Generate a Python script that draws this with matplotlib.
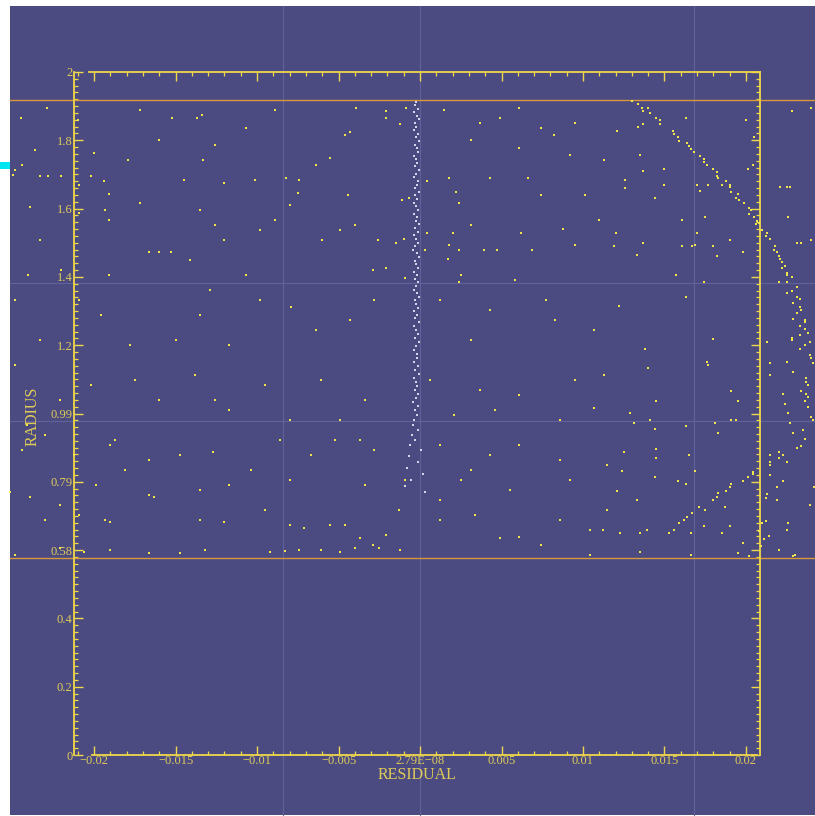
import numpy as np
import matplotlib.pyplot as plt
from matplotlib.patches import Rectangle
from matplotlib.ticker import MultipleLocator

# residuals are listed in units of 1e-3, as (residual, radius) pairs
res_scale = 1e-3

band_top = [
    (-24.5, 1.865), (-22.9, 1.895), (-21.0, 1.859), (-17.2, 1.889), (-15.2, 1.865), (-13.7, 1.865),
    (-13.4, 1.874), (-10.7, 1.836), (-8.9, 1.889), (-4.3, 1.824), (-3.9, 1.895), (-2.1, 1.865),
    (1.5, 1.889), (3.7, 1.851), (4.9, 1.865), (6.1, 1.895), (7.4, 1.836), (9.5, 1.851), (12.1, 1.827),
    (13.4, 1.839), (13.7, 1.848), (16.3, 1.865), (20.0, 1.859), (20.5, 1.810), (22.8, 1.886), (24.0, 1.895),
    (-0.86, 1.895), (-1.2, 1.848), (-2.1, 1.886),
]
band_upper = [
    (-23.6, 1.772), (-20.0, 1.763), (-24.4, 1.728), (-24.85, 1.713), (-25.0, 1.698), (-23.3, 1.695),
    (-22.8, 1.695), (-22.0, 1.695), (-20.2, 1.695), (-19.4, 1.681), (-20.9, 1.669), (-19.1, 1.643),
    (-23.9, 1.605), (-19.3, 1.596), (-17.9, 1.742), (-14.5, 1.684), (-13.3, 1.742), (-12.6, 1.786),
    (-12.0, 1.675), (-10.1, 1.684), (-8.2, 1.690), (-7.4, 1.684), (-6.4, 1.728), (-5.5, 1.748),
    (-4.6, 1.816), (-7.5, 1.646), (-4.4, 1.640), (-16.0, 1.801), (-0.67, 1.631), (-1.1, 1.625),
    (-1.5, 1.499), (-1.0, 1.511), (-2.1, 1.426), (-0.9, 1.397),
    (0.43, 1.681), (1.8, 1.690), (2.2, 1.649), (2.4, 1.616), (3.1, 1.801), (4.3, 1.690), (6.1, 1.777),
    (6.6, 1.690), (7.4, 1.640), (8.2, 1.816), (9.2, 1.757), (11.3, 1.742), (10.1, 1.640), (12.6, 1.684),
    (13.5, 1.757), (13.7, 1.710), (15.0, 1.716), (15.0, 1.669), (12.6, 1.660), (14.4, 1.631),
    (20.4, 1.728), (20.1, 1.716), (22.1, 1.663), (22.5, 1.663), (22.7, 1.663), (17.7, 1.669),
    (18.5, 1.669), (17.0, 1.669), (17.2, 1.652),
    (-19.1, 1.567), (-23.3, 1.508), (-20.9, 1.587), (-17.2, 1.616), (-16.6, 1.473), (-16.0, 1.473),
    (-15.3, 1.473), (-13.5, 1.596), (-12.6, 1.552), (-12.0, 1.508), (-9.8, 1.537), (-8.9, 1.567),
    (-8.0, 1.611), (-6.0, 1.508), (-4.9, 1.537), (-4.0, 1.552), (-2.6, 1.508), (-2.9, 1.420),
    (0.43, 1.529), (2.0, 1.529), (1.8, 1.493), (0.3, 1.479), (2.4, 1.479), (1.7, 1.452), (2.4, 1.385),
    (3.1, 1.552), (3.9, 1.479), (4.7, 1.479), (6.2, 1.529), (6.9, 1.479), (8.8, 1.540), (9.5, 1.493),
    (11.0, 1.567), (12.0, 1.529), (11.9, 1.490), (13.7, 1.499), (13.3, 1.464), (16.1, 1.567),
    (17.0, 1.529), (17.5, 1.575), (18.2, 1.461), (18.0, 1.490), (16.1, 1.490), (16.7, 1.490),
    (16.9, 1.493), (15.7, 1.406), (19.8, 1.473), (23.1, 1.499), (23.4, 1.499), (24.0, 1.508),
    (19.0, 1.508), (22.6, 1.575), (-24.05, 1.406), (-22.0, 1.420), (-19.1, 1.406), (-10.7, 1.406),
    (-14.1, 1.449),
]
band_middle = [
    (-24.85, 1.332), (-23.3, 1.215), (-20.9, 1.332), (-19.6, 1.288), (-17.8, 1.201), (-15.0, 1.215),
    (-13.5, 1.288), (-12.9, 1.362), (-11.7, 1.201), (-9.8, 1.332), (-7.9, 1.312), (-6.4, 1.245),
    (-4.3, 1.274), (-2.8, 1.332), (1.2, 1.332), (2.5, 1.406), (3.1, 1.215), (4.3, 1.303), (5.8, 1.391),
    (7.7, 1.332), (8.3, 1.274), (10.7, 1.245), (12.2, 1.315), (16.3, 1.341), (17.4, 1.385), (13.8, 1.189),
    (18.0, 1.218), (17.6, 1.151), (17.7, 1.142), (11.3, 1.113), (14.0, 1.133), (21.3, 1.209),
    (21.5, 1.148), (21.5, 1.113), (22.5, 1.151), (22.9, 1.122),
    (-24.85, 1.142), (-20.2, 1.083), (-17.5, 1.098), (-16.0, 1.040), (-13.8, 1.113), (-12.6, 1.040),
    (-11.7, 1.010), (-9.5, 1.083), (-8.0, 0.981), (-6.1, 1.098), (-4.9, 0.981), (-3.4, 1.040),
    (0.6, 1.098), (2.1, 0.996), (3.7, 1.069), (4.6, 1.010), (6.1, 1.054), (8.6, 0.981), (9.5, 1.098),
    (10.7, 1.016), (12.9, 1.001), (13.1, 0.972), (14.1, 0.981), (14.4, 0.955), (14.5, 1.037),
    (16.3, 0.963), (19.1, 1.066), (19.5, 1.037), (18.1, 0.972), (18.3, 0.943), (19.1, 0.981),
    (19.4, 0.981), (-24.1, 0.966), (-23.0, 0.937), (-18.7, 0.922), (-22.1, 1.040),
]
band_outer = [
    (23.3, 1.189), (23.6, 1.201), (23.9, 1.209), (22.8, 1.215), (23.9, 1.171), (24.0, 1.163),
    (24.1, 1.148), (23.7, 1.104), (23.7, 1.092), (23.8, 1.083), (23.4, 1.066), (23.7, 1.057),
    (23.8, 1.048), (22.3, 1.057), (22.4, 1.028), (22.6, 1.001), (23.8, 1.019), (23.6, 1.037),
    (24.0, 0.990), (24.1, 0.981), (22.7, 0.972), (22.9, 0.943), (23.5, 0.952), (23.6, 0.925),
    (23.1, 0.899), (23.4, 0.905), (22.0, 0.887), (22.3, 0.878), (21.5, 0.878), (22.0, 0.870),
    (21.5, 0.858), (21.5, 0.849), (22.5, 0.858), (21.5, 0.820), (22.3, 0.802), (21.9, 0.785),
    (21.3, 0.764), (21.2, 0.753), (21.9, 0.747), (24.2, 0.785), (21.2, 0.685), (22.6, 0.679),
    (22.5, 0.659), (21.4, 0.641), (21.1, 0.633), (22.0, 0.600), (22.9, 0.583), (21.0, 0.679),
    (20.8, 0.656), (20.9, 0.612),
]
band_lower = [
    (-24.4, 0.893), (-21.2, 0.878), (-19.0, 0.908), (-18.1, 0.835), (-16.6, 0.864), (-14.7, 0.878),
    (-12.7, 0.887), (-10.4, 0.835), (-8.6, 0.922), (-6.7, 0.878), (-5.2, 0.922), (-3.7, 0.922),
    (-2.8, 0.893), (1.2, 0.908), (2.5, 0.805), (3.1, 0.835), (4.3, 0.878), (6.1, 0.908), (8.6, 0.864),
    (12.5, 0.887), (11.5, 0.849), (12.4, 0.832), (14.5, 0.896), (14.5, 0.870), (14.4, 0.814),
    (16.5, 0.878), (16.9, 0.832), (15.8, 0.802), (16.3, 0.794), (-23.9, 0.755), (-22.1, 0.732),
    (-25.15, 0.770), (-19.9, 0.791), (-13.5, 0.776), (-11.7, 0.791), (-8.0, 0.805), (-3.4, 0.791),
    (1.2, 0.747), (5.5, 0.776), (9.2, 0.805), (13.3, 0.747), (12.1, 0.773),
    (11.5, 0.717), (11.2, 0.659), (12.3, 0.650), (13.5, 0.650), (13.9, 0.659), (15.3, 0.650),
    (15.6, 0.659), (15.9, 0.679), (16.2, 0.688), (16.4, 0.697), (16.7, 0.709), (16.6, 0.650),
    (17.1, 0.726), (17.5, 0.717), (18.0, 0.747), (18.2, 0.755), (18.3, 0.767), (18.7, 0.726),
    (18.8, 0.773), (19.0, 0.785), (19.1, 0.794), (19.8, 0.802), (20.1, 0.814), (20.4, 0.829),
    (20.4, 0.823), (18.5, 0.650), (19.0, 0.671), (19.8, 0.621), (19.5, 0.592), (20.2, 0.583),
    (17.4, 0.671),
    (-23.0, 0.688), (-20.9, 0.703), (-19.3, 0.688), (-19.0, 0.682), (-16.6, 0.761), (-16.3, 0.755),
    (-13.5, 0.688), (-12.0, 0.682), (-9.5, 0.717), (-8.0, 0.674), (-7.1, 0.665), (-5.5, 0.674),
    (-4.6, 0.674), (-3.7, 0.635), (-2.9, 0.615), (-2.1, 0.644), (-1.3, 0.717), (-0.9, 0.805),
    (1.2, 0.688), (3.4, 0.703), (4.9, 0.635), (6.1, 0.638), (7.4, 0.615), (8.6, 0.688), (10.4, 0.659),
    (-24.85, 0.586), (-22.1, 0.606), (-20.6, 0.594), (-19.0, 0.600), (-16.6, 0.592), (-14.7, 0.592),
    (-13.2, 0.600), (-9.2, 0.594), (-8.3, 0.597), (-7.4, 0.600), (-6.1, 0.600), (-4.9, 0.594),
    (-4.0, 0.606), (-2.5, 0.606), (-1.2, 0.600), (10.4, 0.586), (13.5, 0.594), (16.6, 0.586),
    (23.0, 0.586), (23.9, 0.732),
]
# the sweep of points running down the right-hand side
sweep = [
    (13.0, 1.915), (13.4, 1.906), (13.6, 1.895), (14.0, 1.895), (13.7, 1.886), (14.1, 1.880),
    (14.5, 1.865), (14.7, 1.859), (14.7, 1.848), (15.5, 1.827), (15.6, 1.818), (15.8, 1.810),
    (15.9, 1.798), (16.4, 1.792), (16.5, 1.783), (16.6, 1.774), (16.8, 1.766), (17.2, 1.754),
    (17.4, 1.745), (17.4, 1.736), (17.6, 1.728), (18.0, 1.716), (18.2, 1.707), (18.2, 1.695),
    (18.3, 1.690), (18.8, 1.681), (19.0, 1.669), (19.0, 1.663), (19.1, 1.649), (19.5, 1.643),
    (19.4, 1.631), (19.6, 1.625), (19.9, 1.616), (20.2, 1.602), (20.3, 1.596), (20.2, 1.584),
    (20.5, 1.575), (20.7, 1.564), (20.8, 1.558), (20.6, 1.555), (21.0, 1.537), (21.3, 1.529),
    (21.2, 1.520), (21.5, 1.511), (21.8, 1.490), (21.7, 1.479), (21.9, 1.473), (22.0, 1.461),
    (22.1, 1.452), (22.2, 1.444), (22.4, 1.432), (22.2, 1.426), (22.5, 1.411), (22.5, 1.406),
    (22.8, 1.400), (22.0, 1.385), (22.5, 1.385), (23.1, 1.370), (22.8, 1.359), (22.5, 1.353),
    (23.1, 1.341), (23.3, 1.335), (22.9, 1.324), (23.3, 1.312), (23.4, 1.303), (23.1, 1.294),
    (22.9, 1.277), (23.6, 1.274), (23.6, 1.268), (23.3, 1.256), (23.6, 1.247), (23.8, 1.236),
    (23.3, 1.230), (22.8, 1.221),
]
# the near-zero residual column (white)
core = [
    (-0.25, 1.912), (-0.31, 1.903), (-0.12, 1.892), (-0.37, 1.883), (-0.18, 1.871), (-0.08, 1.862),
    (-0.29, 1.851), (-0.22, 1.839), (-0.35, 1.830), (-0.14, 1.818), (-0.27, 1.810), (-0.06, 1.798),
    (-0.33, 1.786), (-0.20, 1.777), (-0.11, 1.766), (-0.38, 1.754), (-0.24, 1.745), (-0.16, 1.733),
    (-0.30, 1.725), (-0.09, 1.713), (-0.26, 1.701), (-0.36, 1.693), (-0.13, 1.681), (-0.21, 1.669),
    (-0.32, 1.660), (-0.07, 1.649), (-0.28, 1.640), (-0.17, 1.628), (-0.39, 1.616), (-0.23, 1.608),
    (-0.10, 1.596), (-0.34, 1.584), (-0.19, 1.575), (-0.27, 1.564), (-0.05, 1.555), (-0.31, 1.543),
    (-0.15, 1.531), (-0.37, 1.523), (-0.22, 1.511), (-0.12, 1.499), (-0.29, 1.490), (-0.40, 1.479),
    (-0.18, 1.470), (-0.08, 1.458), (-0.33, 1.447), (-0.25, 1.438), (-0.14, 1.426), (-0.36, 1.414),
    (-0.20, 1.406), (-0.30, 1.394), (-0.11, 1.385), (-0.26, 1.373), (-0.38, 1.362), (-0.16, 1.353),
    (-0.07, 1.341), (-0.32, 1.332), (-0.23, 1.321), (-0.13, 1.309), (-0.35, 1.300), (-0.19, 1.288),
    (-0.28, 1.280), (-0.09, 1.268), (-0.37, 1.256), (-0.24, 1.245), (-0.15, 1.233), (-0.31, 1.221),
    (-0.06, 1.209), (-0.27, 1.198), (-0.39, 1.186), (-0.17, 1.174), (-0.21, 1.163), (-0.34, 1.151),
    (-0.12, 1.139), (-0.29, 1.127), (-0.08, 1.116), (-0.36, 1.104), (-0.22, 1.092), (-0.18, 1.081),
    (-0.33, 1.069), (-0.10, 1.057), (-0.26, 1.046), (-0.40, 1.034), (-0.14, 1.022), (-0.30, 1.010),
    (-0.20, 0.996), (-0.35, 0.981), (-0.45, 0.966), (-0.11, 0.952), (-0.52, 0.937), (-0.28, 0.922),
    (-0.60, 0.908), (0.05, 0.893), (-0.70, 0.876), (-0.15, 0.858), (-0.80, 0.840), (0.20, 0.823),
    (-0.55, 0.805), (-0.95, 0.788), (0.30, 0.770),
]

# radial limits and reference grid
radius_limits = [1.918, 0.577]
grid_resid = [-8.4, 0.0, 16.8]
grid_radius = [1.382, 0.978]

xticks = [-0.02, -0.015, -0.01, -0.005, 0.0, 0.005, 0.01, 0.015, 0.02]
xtick_labels = ['\u22120.02', '\u22120.015', '\u22120.01', '\u22120.005', '2.79E\u221208',
                '0.005', '0.01', '0.015', '0.02']
yticks = [0, 0.2, 0.4, 0.6, 0.8, 1.0, 1.2, 1.4, 1.6, 1.8, 2.0]
ytick_labels = ['0', '0.2', '0.4', '0.58', '0.79', '0.99', '1.2', '1.4', '1.6', '1.8', '2']

panel = '#4b4b82'
yellow = '#efd84a'
label_col = '#e0cc58'
font = 'Liberation Serif'

W, H = 815, 816
fig = plt.figure(figsize=(W / 100, H / 100), dpi=100, facecolor='white')

bg = fig.add_axes([10 / W, 1 / H, 805 / W, 809 / H])
bg.set_facecolor(panel)
bg.set_xticks([])
bg.set_yticks([])
for s in bg.spines.values():
    s.set_visible(False)

fig.add_artist(Rectangle((0, 1 - 169 / H), 10 / W, 7 / H, transform=fig.transFigure,
                         color='#00e6f0', lw=0))

ax = fig.add_axes([74 / W, 1 - 755 / H, 686 / W, 683 / H])
ax.set_facecolor('none')
ax.set_xlim(-21.23e-3, 20.86e-3)
ax.set_ylim(0, 2)

# lines span the whole panel, not just the frame
fx0, fx1 = (10 - 74) / 686, (815 - 74) / 686
fy0, fy1 = (755 - 815) / 683, (755 - 6) / 683
for g in grid_resid:
    ax.axvline(g * res_scale, ymin=fy0, ymax=fy1, color='#62629a', lw=0.8, clip_on=False, zorder=1)
for g in grid_radius:
    ax.axhline(g, xmin=fx0, xmax=fx1, color='#62629a', lw=0.8, clip_on=False, zorder=1)
for r in radius_limits:
    ax.axhline(r, xmin=fx0, xmax=fx1, color='#d8973c', lw=1.0, clip_on=False, zorder=2)

yellow_pts = np.array(band_top + band_upper + band_middle + band_outer + band_lower + sweep)
white_pts = np.array(core)
ax.scatter(yellow_pts[:, 0] * res_scale, yellow_pts[:, 1], s=3.8, marker='s', c='#f0e64c',
           linewidths=0, clip_on=False, zorder=3)
ax.scatter(white_pts[:, 0] * res_scale, white_pts[:, 1], s=2.8, marker='s', c='#d4d4ea',
           linewidths=0, clip_on=False, zorder=3)

for side in ('left', 'right', 'top', 'bottom'):
    ax.spines[side].set_color(yellow)
    ax.spines[side].set_linewidth(1.3)
ax.spines['bottom'].set_bounds(-20.1e-3, 20.7e-3)
ax.spines['top'].set_bounds(-20.3e-3, 20.86e-3)

ax.set_xticks(xticks)
ax.set_xticklabels(xtick_labels)
ax.set_yticks(yticks)
ax.set_yticklabels(ytick_labels)
ax.xaxis.set_minor_locator(MultipleLocator(0.001))
ax.yaxis.set_minor_locator(MultipleLocator(0.02))
ax.tick_params(which='both', direction='in', color=yellow, top=True, right=True,
               labelcolor=label_col, labelsize=9, pad=1.0)
ax.tick_params(axis='x', which='both', pad=0.2)
ax.tick_params(which='major', length=6.5, width=1.0)
ax.tick_params(which='minor', length=3, width=0.9)
for lab in ax.get_xticklabels() + ax.get_yticklabels():
    lab.set_fontfamily(font)

fig.text(417 / W, 1 - 775 / H, 'RESIDUAL', ha='center', va='center', color=label_col,
         fontsize=11.5, family=font)
fig.text(33 / W, 1 - 416 / H, 'RADIUS', ha='center', va='center', rotation=90,
         color=label_col, fontsize=11.5, family=font)

fig.savefig('out.png', dpi=100, facecolor='white')
